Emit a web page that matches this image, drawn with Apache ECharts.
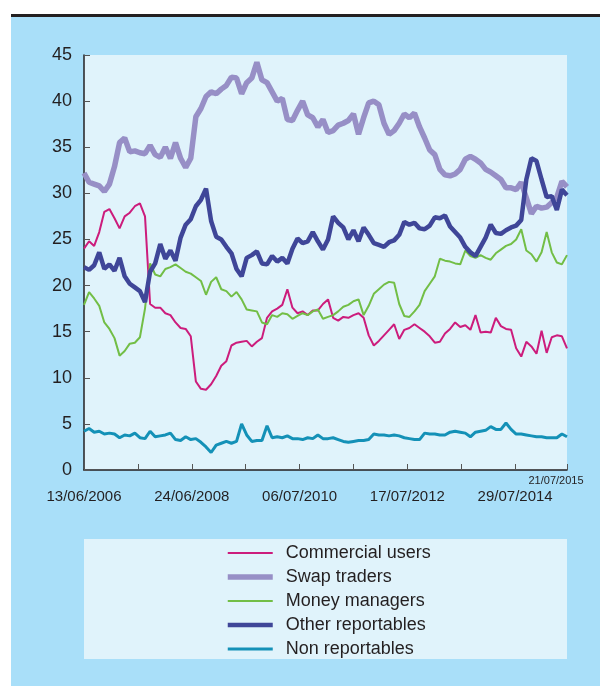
<!DOCTYPE html>
<html>
<head>
<meta charset="utf-8">
<script src="https://cdn.jsdelivr.net/npm/echarts@6/dist/echarts.min.js"></script>
<style>
    html, body { margin: 0; padding: 0; background: #fff; }
    #position-chart { width: 600px; height: 686px; }
</style>
</head>
<body>
<div id="position-chart"></div>
<script>
// weekly positions, one reading every 5 weeks from 13/06/2006 to 21/07/2015
const startDate = Date.UTC(2006, 5, 13);
const stepWeeks = 5;
const lastWeek = 475;
const tickWeeks = 53;
const labelWeeks = 106;

const seriesNames = ['Commercial users', 'Swap traders', 'Money managers', 'Other reportables', 'Non reportables'];

const commercialUsers = [
    24.0, 24.8, 24.3, 25.8, 28.0, 28.3, 27.3, 26.2, 27.5, 27.9,
    28.6, 28.9, 27.5, 18.0, 17.6, 17.6, 17.0, 16.8, 16.0, 15.4,
    15.3, 14.5, 9.6, 8.8, 8.7, 9.3, 10.2, 11.3, 11.8, 13.5,
    13.8, 13.9, 14.0, 13.4, 13.9, 14.3, 16.5, 17.2, 17.5, 17.9,
    19.6, 17.6, 17.0, 17.2, 16.8, 17.3, 17.3, 18.0, 18.5, 16.5,
    16.2, 16.6, 16.5, 16.8, 17.0, 16.5, 14.6, 13.5, 14.0, 14.6,
    15.2, 15.8, 14.2, 15.2, 15.4, 15.8, 15.4, 15.0, 14.5, 13.8,
    13.9, 14.8, 15.3, 16.0, 15.5, 15.7, 15.2, 16.8, 14.9, 15.0,
    14.9, 16.5, 15.6, 15.3, 15.2, 13.2, 12.3, 13.9, 13.4, 12.6,
    15.1, 12.7, 14.4, 14.6, 14.5, 13.2
];
const swapTraders = [
    32.2, 31.2, 31.0, 30.8, 30.2, 31.0, 32.9, 35.5, 36.0, 34.5,
    34.6, 34.4, 34.3, 35.2, 34.2, 33.9, 35.0, 33.8, 35.5, 33.8,
    32.8, 33.8, 38.3, 39.2, 40.5, 41.0, 40.8, 41.3, 41.7, 42.6,
    42.5, 40.8, 42.0, 42.5, 44.2, 42.3, 42.0, 41.0, 40.0, 40.3,
    38.0, 37.9, 39.0, 40.0, 38.5, 38.2, 37.2, 38.0, 36.6, 36.8,
    37.4, 37.6, 37.9, 38.6, 36.4, 38.2, 39.8, 40.0, 39.6, 37.6,
    36.4, 36.8, 37.6, 38.6, 38.2, 38.7, 37.2, 36.0, 34.7, 34.2,
    32.6, 32.0, 31.9, 32.1, 32.6, 33.7, 34.0, 33.7, 33.3, 32.6,
    32.3, 31.9, 31.5, 30.6, 30.6, 30.4, 31.2, 29.5, 27.8, 28.6,
    28.4, 28.5, 29.0, 29.6, 31.3, 30.7
];
const moneyManagers = [
    17.9, 19.3, 18.6, 17.8, 16.0, 15.3, 14.3, 12.4, 12.9, 13.7,
    13.8, 14.4, 17.5, 22.4, 21.2, 21.0, 21.8, 22.0, 22.3, 21.9,
    21.5, 21.3, 20.9, 20.5, 19.0, 20.4, 20.9, 19.6, 19.4, 18.8,
    19.3, 18.5, 17.4, 17.3, 17.2, 16.0, 15.8, 16.8, 16.6, 17.0,
    16.9, 16.4, 16.7, 17.0, 16.8, 17.2, 17.4, 16.4, 16.6, 16.8,
    17.2, 17.7, 17.9, 18.3, 18.5, 16.8, 17.8, 19.1, 19.6, 20.1,
    20.4, 20.3, 18.0, 16.7, 16.6, 17.2, 17.9, 19.4, 20.2, 21.0,
    22.9, 22.7, 22.6, 22.4, 22.3, 23.8, 23.2, 23.0, 23.3, 23.0,
    22.8, 23.5, 23.9, 24.3, 24.5, 25.0, 26.1, 23.8, 23.4, 22.6,
    23.6, 25.8, 23.6, 22.5, 22.3, 23.3
];
const otherReportables = [
    22.0, 21.7, 22.2, 23.6, 21.8, 22.3, 21.6, 23.0, 21.0, 20.2,
    19.8, 19.4, 18.2, 21.5, 22.4, 24.5, 22.9, 23.8, 22.7, 25.2,
    26.6, 27.2, 28.6, 29.3, 30.5, 27.0, 25.3, 25.0, 24.2, 23.5,
    21.8, 21.0, 23.0, 23.3, 23.7, 22.4, 22.3, 23.2, 22.6, 23.0,
    22.4, 24.0, 25.1, 24.6, 24.8, 25.8, 24.8, 23.9, 25.0, 27.5,
    26.8, 26.3, 25.0, 26.0, 24.8, 26.3, 25.5, 24.6, 24.4, 24.2,
    24.7, 24.9, 25.5, 26.9, 26.6, 26.8, 26.2, 26.1, 26.5, 27.4,
    27.3, 27.6, 26.4, 25.8, 25.2, 24.2, 23.6, 23.2, 24.2, 25.2,
    26.6, 25.7, 25.6, 26.0, 26.3, 26.5, 27.1, 31.5, 33.8, 33.5,
    31.5, 29.6, 29.7, 28.2, 30.4, 29.8
];
const nonReportables = [
    4.2, 4.5, 4.1, 4.2, 3.9, 4.0, 3.9, 3.5, 3.8, 3.7,
    4.0, 3.5, 3.4, 4.2, 3.6, 3.7, 3.8, 4.0, 3.3, 3.2,
    3.6, 3.3, 3.4, 3.0, 2.5, 1.9, 2.7, 2.9, 3.1, 2.9,
    3.1, 5.0, 3.8, 3.1, 3.2, 3.2, 4.8, 3.5, 3.6, 3.5,
    3.7, 3.4, 3.4, 3.3, 3.5, 3.4, 3.8, 3.4, 3.4, 3.5,
    3.3, 3.1, 3.0, 3.1, 3.2, 3.2, 3.3, 3.9, 3.8, 3.8,
    3.7, 3.8, 3.7, 3.5, 3.4, 3.3, 3.3, 4.0, 3.9, 3.9,
    3.8, 3.8, 4.1, 4.2, 4.1, 4.0, 3.6, 4.1, 4.2, 4.3,
    4.7, 4.4, 4.4, 5.1, 4.4, 3.9, 3.9, 3.8, 3.7, 3.6,
    3.6, 3.5, 3.5, 3.5, 3.9, 3.6
];

const seriesValues = [commercialUsers, swapTraders, moneyManagers, otherReportables, nonReportables];
const seriesColors = ['#cc1c7c', '#978fc6', '#72be46', '#3f4698', '#1491b7'];
const seriesWidths = [2, 5.5, 2, 4.5, 3];

const weeks = commercialUsers.map((_, i) => i * stepWeeks);

function weekLabel(week) {
    const d = new Date(startDate + week * 7 * 86400000);
    const dd = String(d.getUTCDate()).padStart(2, '0');
    const mm = String(d.getUTCMonth() + 1).padStart(2, '0');
    return dd + '/' + mm + '/' + d.getUTCFullYear();
}

const fontFamily = '"Liberation Sans", Arial, sans-serif';
const textColor = '#231f20';

const option = {
    animation: false,
    backgroundColor: '#a9dff9',
    textStyle: { fontFamily: fontFamily },
    graphic: [
        { type: 'rect', shape: { x: 0, y: 0, width: 600, height: 14 }, style: { fill: '#fff' } },
        { type: 'rect', shape: { x: 0, y: 0, width: 11, height: 686 }, style: { fill: '#fff' } },
        { type: 'rect', shape: { x: 11, y: 14, width: 589, height: 3 }, style: { fill: '#231f20' } },
        { type: 'rect', z: -1, shape: { x: 84, y: 539, width: 483, height: 120 }, style: { fill: '#e0f3fb' } }
    ],
    legend: {
        data: seriesNames,
        orient: 'vertical',
        left: 220,
        top: 539,
        itemWidth: 45,
        itemHeight: 14,
        itemGap: 6,
        itemStyle: { opacity: 0 },
        lineStyle: { width: 'inherit' },
        textStyle: { fontSize: 18, color: textColor, padding: [0, 0, 0, 8] }
    },
    grid: {
        left: 84,
        right: 33,
        top: 55,
        bottom: 216,
        show: true,
        backgroundColor: '#e0f3fb',
        borderWidth: 0
    },
    xAxis: [{
        type: 'value',
        min: 0,
        max: lastWeek,
        interval: tickWeeks,
        position: 'bottom',
        splitLine: { show: false },
        axisLine: { lineStyle: { color: textColor, width: 1.5 } },
        axisTick: { inside: true, length: 6, lineStyle: { color: '#555' } },
        axisLabel: {
            margin: 19,
            fontSize: 15,
            color: textColor,
            showMaxLabel: true,
            formatter: v => (v % labelWeeks === 0 && v !== lastWeek) ? weekLabel(v) : ''
        }
    }, {
        type: 'value',
        min: 0,
        max: lastWeek,
        interval: tickWeeks,
        position: 'bottom',
        splitLine: { show: false },
        axisLine: { show: false },
        axisTick: { show: false },
        axisLabel: {
            margin: 5,
            fontSize: 11,
            color: textColor,
            showMaxLabel: true,
            padding: [0, 22, 0, 0],
            formatter: v => v === lastWeek ? weekLabel(v) : ''
        }
    }],
    yAxis: {
        type: 'value',
        min: 0,
        max: 45,
        interval: 5,
        splitLine: { show: false },
        axisLine: { show: true, lineStyle: { color: textColor, width: 1.5 } },
        axisTick: { show: true, inside: true, length: 6, lineStyle: { color: '#555' } },
        axisLabel: { margin: 12, fontSize: 18, color: textColor }
    },
    series: seriesNames.map((name, s) => ({
        name: name,
        type: 'line',
        xAxisIndex: 0,
        symbol: 'none',
        color: seriesColors[s],
        lineStyle: { width: seriesWidths[s], color: seriesColors[s] },
        data: weeks.map((w, i) => [w, seriesValues[s][i]])
    }))
};

const chartDom = document.getElementById('position-chart');
const myChart = echarts.init(chartDom);
myChart.setOption(option);
window.addEventListener('resize', () => myChart.resize());
</script>
</body>
</html>
